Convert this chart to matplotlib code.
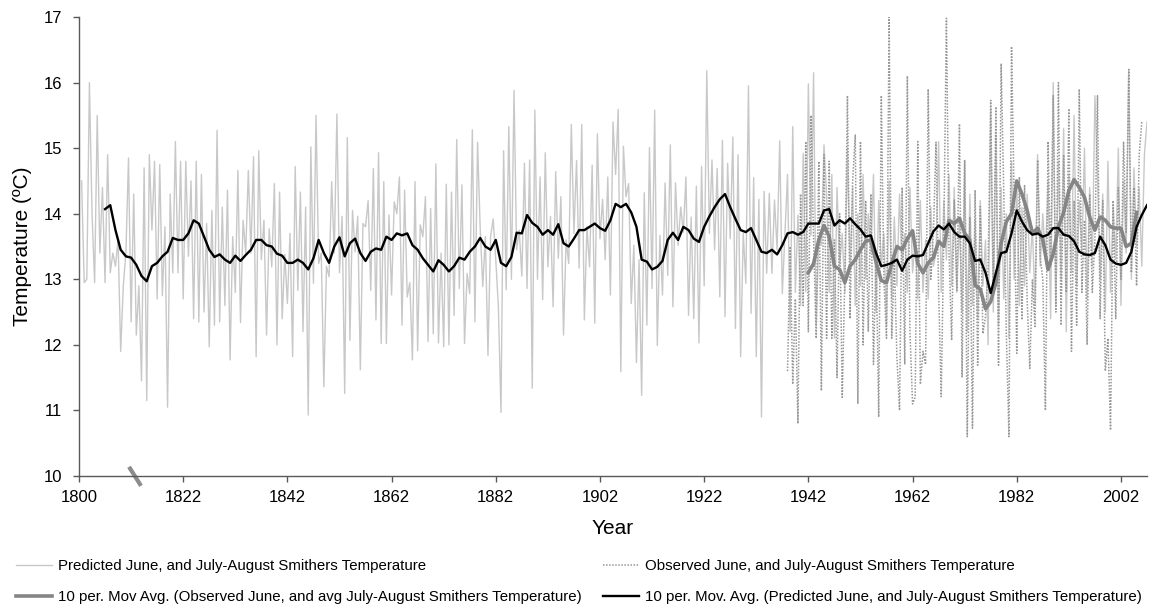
import numpy as np
import matplotlib
matplotlib.use("Agg")
import matplotlib.pyplot as plt

plt.rcParams['font.family'] = ['Liberation Sans', 'DejaVu Sans']

# x axis is a category axis: label "1800" sits at category 0, then every
# 20 categories a label; the raw series have two samples per category
tick_cats = [0, 20, 40, 60, 80, 100, 120, 140, 160, 180, 200]
tick_labels = ['1800', '1822', '1842', '1862', '1882', '1902',
               '1922', '1942', '1962', '1982', '2002']

# predicted June + July-August temperature, half-category steps from 0.5
predicted = [
    # 0.5 - 16.5
    14.5, 12.95, 13.0, 16.0, 14.0, 12.95, 15.5, 13.4, 14.4, 12.95, 14.9,
    13.1, 13.4, 13.2, 13.6, 11.9, 12.9, 13.4, 14.85, 12.35, 14.3, 12.15,
    12.9, 11.45, 14.7, 11.15, 14.9, 13.75, 14.8, 12.7, 14.75, 12.75, 13.8,
    # 17 - 37.5
    11.05, 14.3, 13.1, 15.1, 13.1, 14.8, 12.7, 14.8, 13.35, 14.5, 12.4,
    14.8, 12.35, 14.6, 12.5, 13.85, 11.97, 14.05, 12.3, 15.27, 12.35, 14.1,
    12.6, 14.36, 11.77, 13.65, 12.8, 14.66, 12.34, 13.9, 13.4, 14.66, 13.4,
    14.87, 11.82, 14.96, 13.3, 13.9, 12.15, 13.77, 13.19, 14.46,
    # 38 - 58.5
    12.0, 14.33, 12.4, 13.38, 12.63, 13.7, 11.82, 14.72, 12.83, 14.33, 12.2,
    14.1, 10.93, 15.02, 12.94, 15.5, 13.24, 13.4, 11.36, 13.2, 13.04, 14.49,
    13.4, 15.52, 13.1, 13.96, 11.26, 15.16, 12.07, 14.05, 13.42, 13.96,
    11.62, 13.85, 13.8, 14.2, 12.83, 14.69, 12.38, 14.93, 12.02, 14.49,
    # 59 - 79.5
    12.02, 13.98, 12.76, 14.18, 14.0, 14.56, 12.3, 14.36, 12.73, 12.95,
    11.77, 14.49, 11.91, 13.83, 13.65, 14.26, 12.05, 14.08, 12.17, 14.76,
    12.03, 13.4, 11.97, 14.45, 12.0, 14.33, 12.45, 15.13, 12.86, 14.44,
    12.02, 13.09, 12.78, 15.28, 12.35, 15.09, 13.8, 12.89, 13.65, 11.84,
    13.65, 13.92,
    # 80 - 100.5
    13.3, 12.58, 10.97, 14.96, 12.84, 15.33, 13.0, 15.88, 13.45, 13.75,
    13.05, 14.77, 12.86, 14.82, 11.34, 15.58, 13.0, 14.56, 12.69, 14.93,
    13.19, 13.96, 12.58, 14.64, 13.32, 14.26, 12.15, 13.6, 13.24, 15.36,
    13.7, 14.81, 13.17, 15.36, 12.38, 13.8, 13.19, 14.74, 12.33, 15.22,
    13.62, 14.22,
    # 101 - 122
    13.3, 14.56, 12.76, 15.4, 14.6, 15.59, 11.59, 15.03, 14.26, 14.46,
    12.63, 13.52, 11.73, 13.3, 11.23, 14.32, 12.3, 15.01, 12.86, 15.58,
    11.99, 13.67, 12.76, 14.47, 13.06, 15.05, 12.58, 14.47, 13.52, 14.1,
    13.72, 14.56, 12.45, 13.95, 12.4, 14.42, 12.03, 14.72, 12.9, 16.18,
    13.7, 14.82, 13.45,
    # 122.5 - 135.5
    14.69, 12.73, 15.12, 12.43, 14.77, 13.62, 15.17, 12.25, 14.9, 11.82,
    13.7, 12.94, 15.95, 12.48, 14.55, 11.82, 14.22, 10.90, 14.34, 13.09,
    14.31, 13.09, 14.21, 13.45, 15.11, 12.78, 13.7,
    # 136 - 143
    14.6, 12.2, 15.33, 12.8, 13.98, 12.6, 14.92, 12.81, 15.98, 13.67,
    16.15, 12.29, 13.65, 13.52, 15.05,
    # 143.5 - 164
    14.3, 12.8, 14.6, 12.1, 14.4, 13.2, 13.7, 12.8, 15.0, 13.2, 14.4, 12.6,
    14.0, 12.9, 14.6, 13.0, 14.0, 13.4, 14.6, 12.5, 14.2, 13.2, 13.7, 12.3,
    14.5, 12.7, 13.95, 12.9, 14.3, 13.2, 13.7, 12.8, 14.4, 13.1, 13.6, 12.7,
    14.2, 12.8, 13.6, 12.7, 14.1, 13.2,
    # 164.5 - 185
    13.4, 15.1, 12.8, 14.2, 13.3, 14.6, 12.9, 14.4, 12.8, 13.9, 12.5, 14.8,
    12.2, 14.3, 12.6, 13.9, 12.4, 14.2, 12.9, 13.6, 12.0, 15.6, 12.5, 15.2,
    12.3, 14.4, 12.7, 14.0, 12.1, 14.8, 13.0, 14.5, 12.6, 14.1, 12.9, 14.3,
    13.1, 13.8, 12.6, 14.9, 13.2, 14.0,
    # 185.5 - 205
    13.3, 14.5, 12.4, 16.0, 12.6, 14.8, 13.0, 15.3, 12.2, 14.6, 13.1, 15.5,
    12.9, 14.2, 13.4, 15.0, 12.7, 14.4, 13.2, 15.8, 14.6, 13.0, 14.3, 12.5,
    14.8, 12.8, 14.1, 13.3, 15.0, 12.6, 14.5, 13.4, 16.2, 13.0, 14.7, 13.5,
    14.4, 13.2, 14.9, 15.4,
]
pred_start = 0.5

# observed June + July-August temperature, half-category steps from 136
observed = [
    11.6, 13.5, 11.4, 12.7, 10.8, 14.3, 12.6, 15.1, 12.2, 15.5, 13.6, 12.1,
    14.8, 11.3, 14.9,
    12.1, 14.8, 12.1, 13.6, 11.5, 14.0, 11.2, 13.0, 15.8, 12.4, 14.5, 15.2,
    11.1, 15.1, 12.0, 14.2, 12.2, 14.3, 11.7, 13.4, 10.9, 15.8, 13.0, 12.1,
    17.0, 12.1, 13.3, 11.8, 11.0, 14.4, 11.7, 16.1, 12.2, 11.1, 11.2, 15.1,
    11.4, 11.9, 11.7, 15.9, 13.0,
    13.7, 15.09, 12.83, 11.21, 13.7, 16.98, 13.4, 12.07, 14.21, 12.83, 15.37,
    11.51, 14.82, 10.6, 13.95, 10.73, 14.36, 11.69, 14.11, 12.17, 12.43,
    13.19, 15.73, 12.83, 15.63, 11.69, 16.29, 14.36, 12.17, 10.6, 16.55,
    14.16, 11.87, 14.56, 12.38, 14.44, 12.68, 11.64, 12.99, 12.28, 14.82,
    13.34,
    13.0, 11.0, 15.1, 13.2, 15.8, 12.5, 16.0, 12.3, 14.9, 12.8, 15.6, 11.9,
    14.2, 12.3, 15.9, 12.8, 13.9, 12.0, 14.3, 12.8, 13.6, 15.8, 12.4, 14.2,
    11.6, 12.1, 10.7, 14.2, 12.4, 14.4, 13.0, 15.1, 13.7, 16.2, 13.1, 14.4,
    12.9, 14.9, 15.4,
]
obs_start = 136

# 10 period moving average of predicted series, one value per category from 5
pred_ma = [
    14.07, 14.13, 13.75, 13.45, 13.35, 13.33, 13.22, 13.05, 12.97, 13.2,
    13.25, 13.35,
    13.42, 13.63, 13.6, 13.6, 13.7, 13.9, 13.85, 13.65, 13.45, 13.34, 13.38,
    13.3, 13.25, 13.36, 13.28, 13.37, 13.45, 13.6, 13.6, 13.52, 13.5,
    13.39, 13.36, 13.25, 13.25, 13.3, 13.25, 13.15, 13.32, 13.6, 13.4, 13.25,
    13.5, 13.64, 13.35, 13.55, 13.62, 13.4, 13.28, 13.42, 13.47, 13.45,
    13.65, 13.6, 13.7, 13.67, 13.7, 13.52, 13.45, 13.32, 13.22, 13.12, 13.29,
    13.22, 13.12, 13.2, 13.33, 13.3, 13.42, 13.5, 13.63, 13.5, 13.45,
    13.6, 13.25, 13.2, 13.34, 13.71, 13.7, 13.98, 13.86, 13.8, 13.68, 13.75,
    13.68, 13.84, 13.55, 13.5, 13.62, 13.75, 13.75, 13.8, 13.85, 13.78,
    13.74, 13.9, 14.15, 14.1, 14.15, 14.02, 13.8, 13.3, 13.27, 13.15, 13.19,
    13.28, 13.6, 13.71, 13.6, 13.8, 13.75, 13.62, 13.57, 13.8, 13.96, 14.1,
    14.22, 14.3, 14.1, 13.92, 13.75, 13.72, 13.78, 13.6, 13.42, 13.4, 13.45,
    13.38, 13.52, 13.7, 13.72, 13.68, 13.72, 13.85, 13.85, 13.85, 14.05,
    14.07, 13.82, 13.9, 13.85, 13.93, 13.84, 13.76, 13.65, 13.67, 13.4, 13.2,
    13.22, 13.25, 13.3, 13.13, 13.3, 13.36, 13.35, 13.37, 13.55, 13.73,
    13.82, 13.76, 13.85, 13.72, 13.65, 13.65, 13.55, 13.28, 13.3, 13.1, 12.79,
    13.1, 13.4, 13.42, 13.7, 14.05, 13.88, 13.75, 13.68, 13.7, 13.65,
    13.68, 13.78, 13.78, 13.68, 13.66, 13.58, 13.42, 13.38, 13.37, 13.4,
    13.65, 13.52, 13.3, 13.24, 13.22, 13.25, 13.42, 13.8, 13.98, 14.13,
]
pred_ma_start = 5

# 10 period moving average of observed series, one value per category from 140
obs_ma = [
    13.1,
    13.24, 13.6, 13.82, 13.65, 13.2, 13.15, 12.95, 13.2, 13.3, 13.45, 13.58,
    13.6, 13.26, 12.98, 12.95, 13.24, 13.5, 13.45, 13.62, 13.74, 13.24, 13.1,
    13.25, 13.33,
    13.58, 13.5, 13.9, 13.85, 13.93, 13.7, 13.6, 12.91, 12.85, 12.55, 12.66,
    12.95, 13.55, 13.88, 14.0, 14.5, 14.3, 14.05, 13.7, 13.78, 13.6,
    13.15, 13.39, 13.8, 14.02, 14.35, 14.52, 14.4, 14.25, 13.95, 13.75, 13.95,
    13.9, 13.8, 13.78, 13.78, 13.5, 13.55, 14.02,
]
obs_ma_start = 140

W, H = 1153, 610
fig = plt.figure(figsize=(W / 100, H / 100), dpi=100)
ax = fig.add_axes([79 / W, 1 - 476 / H, (1147 - 79) / W, (476 - 17) / H])

x_pred = pred_start + 0.5 * np.arange(len(predicted))
x_obs = obs_start + 0.5 * np.arange(len(observed))
x_pma = pred_ma_start + np.arange(len(pred_ma))
x_oma = obs_ma_start + np.arange(len(obs_ma))

l1, = ax.plot(x_pred, predicted, color='#c8c8c8', lw=1.0)
l2, = ax.plot(x_obs, observed, color='#969696', lw=1.1, ls=(0, (1, 1)))
l3, = ax.plot(x_oma, obs_ma, color='#858585', lw=2.6)
l4, = ax.plot(x_pma, pred_ma, color='black', lw=1.7)

ax.set_xlim(0, 205)
ax.set_ylim(10, 17)
ax.set_xticks(tick_cats)
ax.set_xticklabels(tick_labels)
ax.set_yticks(range(10, 18))

for s in ['top', 'right']:
    ax.spines[s].set_visible(False)
for s in ['left', 'bottom']:
    ax.spines[s].set_color('#595959')
    ax.spines[s].set_linewidth(1.0)
ax.tick_params(axis='both', colors='#595959', labelcolor='black',
               labelsize=12, length=4, width=1)
ax.tick_params(axis='y', pad=8)
ax.tick_params(axis='x', pad=6)

ax.set_xlabel('Year', fontsize=15)
ax.set_ylabel('Temperature (ºC)', fontsize=15)
ax.xaxis.set_label_coords(0.5, -0.094)
ax.yaxis.set_label_coords(-0.044, 0.5)

# axis break mark on the category axis
ax.plot([9.6, 11.9], [10.14, 9.85], color='#8c8c8c', lw=3, clip_on=False,
        solid_capstyle='butt')

fig.legend([l1, l3, l2, l4],
           ['Predicted June, and July-August Smithers Temperature',
            '10 per. Mov Avg. (Observed June, and avg July-August Smithers Temperature)',
            'Observed June, and July-August Smithers Temperature',
            '10 per. Mov. Avg. (Predicted June, and July-August Smithers Temperature)'],
           ncol=2, loc='upper left', bbox_to_anchor=(16 / W, 1 - 559 / H),
           frameon=False, fontsize=10.8, handlelength=2.4, handletextpad=0.4,
           columnspacing=1.4, labelspacing=1.12, borderpad=0, borderaxespad=0)

fig.savefig('out.png', dpi=100)
